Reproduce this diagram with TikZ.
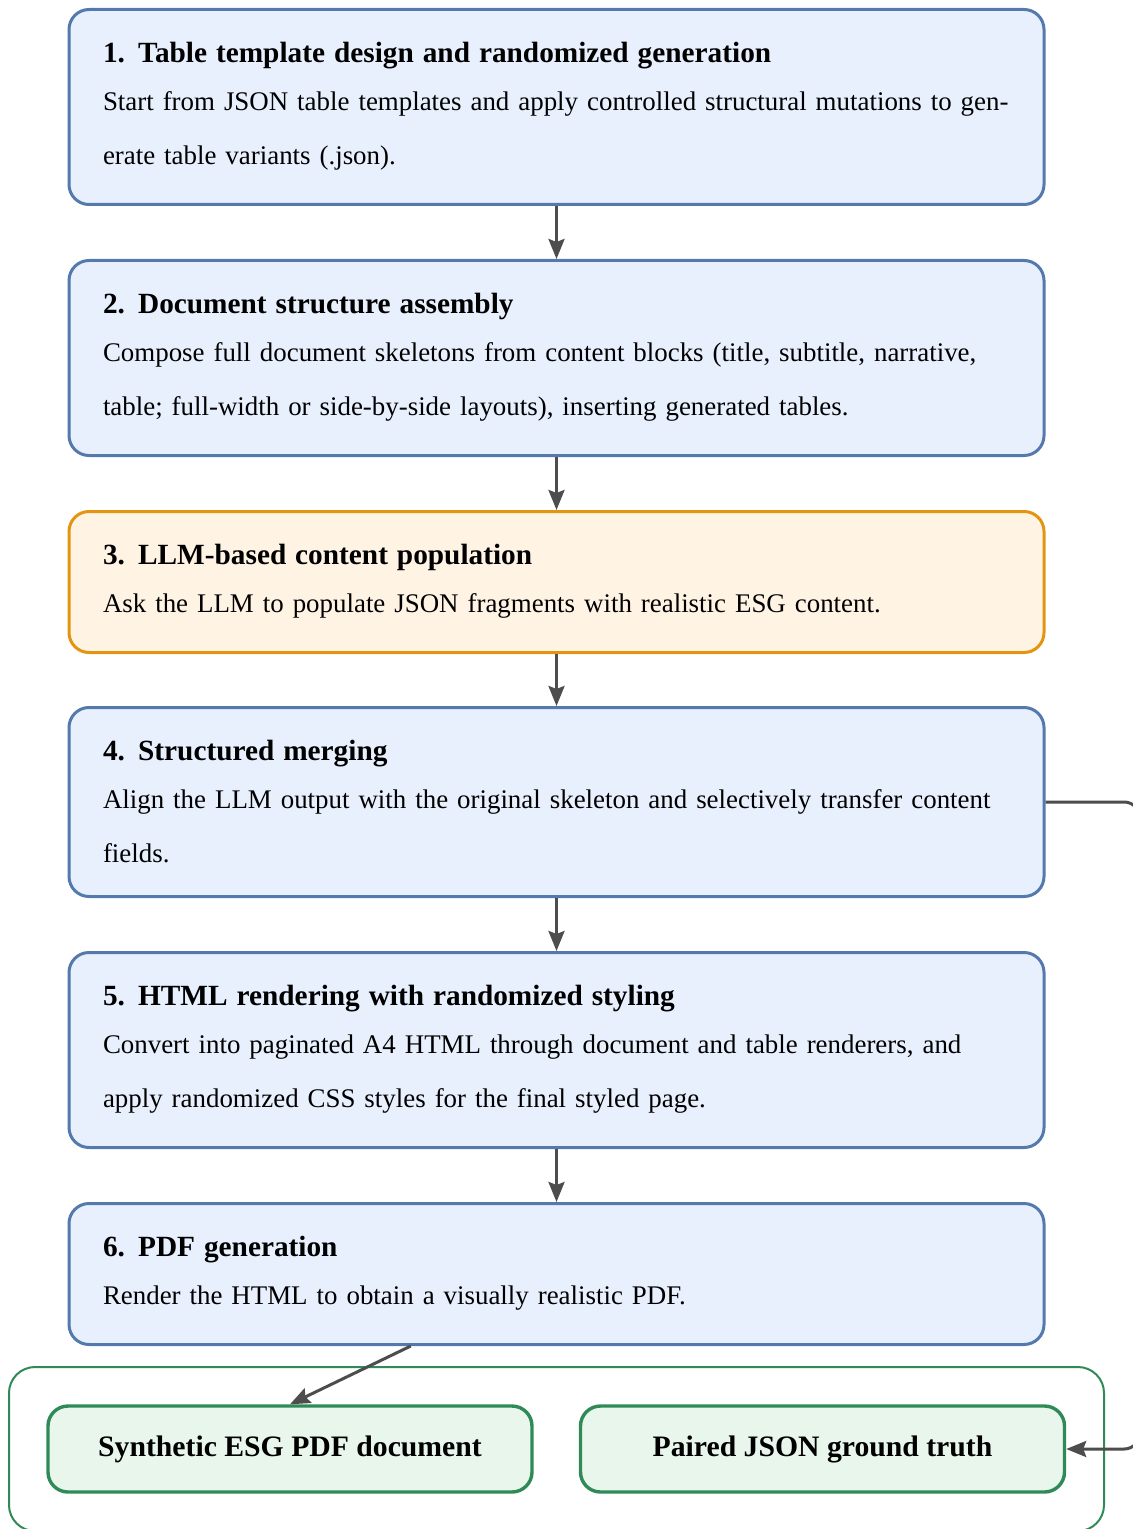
\documentclass[tikz,border=0pt]{standalone}
\usepackage{fontspec}
\setmainfont{Liberation Serif}
\usetikzlibrary{arrows.meta,calc}

\definecolor{stepfill}{HTML}{E8F0FE}
\definecolor{stepline}{HTML}{5479AC}
\definecolor{llmfill}{HTML}{FFF3E4}
\definecolor{llmline}{HTML}{E39512}
\definecolor{outfill}{HTML}{E9F6EC}
\definecolor{outgreen}{HTML}{2F8A58}
\definecolor{flowgray}{HTML}{4D4D4D}

\newcommand{\bodyfont}{\fontsize{13.45pt}{27pt}\selectfont}
\newcommand{\headfont}{\fontsize{14.65pt}{27pt}\selectfont\bfseries}
\newcommand{\labelfont}{\fontsize{14.85pt}{18pt}\selectfont\bfseries}
% step card: bold numbered heading, then the description lines
\newcommand{\stepcard}[4][20pt]{%
  \rule{0pt}{26.5pt}{\headfont #2\hspace{0.45em}#3}\par\vspace{-3pt}%
  #4\rule[-#1]{0pt}{#1}}

\begin{document}
\begin{tikzpicture}[x=0.5pt,y=-0.5pt,
  stepbox/.style={draw=stepline, fill=stepfill, line width=1.5pt,
    rounded corners=10pt, text width=453.5pt, inner xsep=17pt,
    inner ysep=0pt, anchor=north, align=left, font=\bodyfont},
  llmbox/.style={stepbox, draw=llmline, fill=llmfill},
  outbox/.style={draw=outgreen, fill=outfill, line width=1.7pt,
    rounded corners=10pt, minimum width=242pt, minimum height=43pt,
    font=\labelfont, inner sep=0pt},
  groupbox/.style={draw=outgreen, line width=1pt, rounded corners=13pt,
    minimum width=547.5pt, minimum height=82pt, inner sep=0pt},
  flow/.style={draw=flowgray, line width=1.5pt,
    -{Stealth[length=10pt,width=8pt,inset=1.5pt]}}]

\useasboundingbox (0,0) rectangle (1132,1529);

% pipeline stages
\node[stepbox] (b1) at (556.5,8) {\stepcard{1.}{Table template design and randomized generation}{\mbox{Start from JSON table templates and apply controlled structural mutations to gen-}\\\mbox{erate table variants (.json).}}};

\node[stepbox] (b2) at (556.5,259) {\stepcard{2.}{Document structure assembly}{\mbox{Compose full document skeletons from content blocks (title, subtitle, narrative,}\\\mbox{table; full-width or side-by-side layouts), inserting generated tables.}}};

\node[llmbox] (b3) at (556.5,510) {\stepcard{3.}{LLM-based content population}{\mbox{Ask the LLM to populate JSON fragments with realistic ESG content.}}};

\node[stepbox] (b4) at (556.5,706) {\stepcard[17pt]{4.}{Structured merging}{\mbox{Align the LLM output with the original skeleton and selectively transfer content}\\\mbox{fields.}}};

\node[stepbox] (b5) at (556.5,951) {\stepcard{5.}{HTML rendering with randomized styling}{\mbox{Convert into paginated A4 HTML through document and table renderers, and}\\\mbox{apply randomized CSS styles for the final styled page.}}};

\node[stepbox] (b6) at (556.5,1202) {\stepcard{6.}{PDF generation}{\mbox{Render the HTML to obtain a visually realistic PDF.}}};

% outputs
\node[groupbox] (outputs) at (556.5,1449) {};
\node[outbox] (pdf) at (290,1449) {Synthetic ESG PDF document};
\node[outbox] (gt) at (822.5,1449) {Paired JSON ground truth};

% connectors
\draw[flow] (b1.south) -- (b2.north);
\draw[flow] (b2.south) -- (b3.north);
\draw[flow] (b3.south) -- (b4.north);
\draw[flow] (b4.south) -- (b5.north);
\draw[flow] (b5.south) -- (b6.north);

\coordinate (b6out) at ($(b6.south west)!0.351!(b6.south east)$);
\draw[flow] (b6out) -- (pdf.north);

\coordinate (loop) at (1140,1449);
\draw[flow, rounded corners=8pt] (b4.east) -| (loop) -- (gt.east);

\end{tikzpicture}
\end{document}
